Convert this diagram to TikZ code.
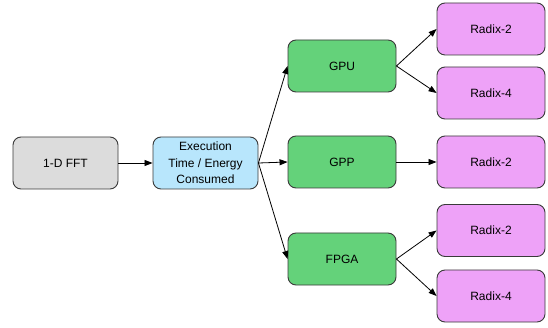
\documentclass[tikz,border=0pt]{standalone}
\usepackage{fontspec}
\setmainfont{Liberation Sans}
\usetikzlibrary{arrows.meta}
\definecolor{cgray}{HTML}{DCDCDC}
\definecolor{cblue}{HTML}{B8E6FC}
\definecolor{cgreen}{HTML}{64D27A}
\definecolor{cviolet}{HTML}{EEA2F8}
\definecolor{cline}{HTML}{3A3A3A}
\begin{document}
\begin{tikzpicture}[x=1pt,y=-1pt,
  box/.style={draw=cline, line width=0.9pt, rounded corners=8pt, minimum width=105pt, minimum height=52pt, inner sep=0pt, align=center, font=\fontsize{12}{16.5}\selectfont},
  arr/.style={-{Triangle[length=8pt,width=6pt]}, line width=0.8pt, black}]
\useasboundingbox (0,0) rectangle (548,328);
\node[box, fill=cgray]   (fft)  at (65.5,163) {1-D FFT};
\node[box, fill=cblue]   (exe)  at (205.5,163) {Execution\\Time / Energy\\Consumed};
\node[box, fill=cgreen, minimum width=108pt]  (gpu)  at (342,66) {GPU};
\node[box, fill=cgreen, minimum width=108pt]  (gpp)  at (342,162) {GPP};
\node[box, fill=cgreen, minimum width=108pt]  (fpga) at (342,259) {FPGA};
\node[box, fill=cviolet, minimum width=108pt] (r1) at (491,29) {Radix-2};
\node[box, fill=cviolet, minimum width=108pt] (r2) at (491,93) {Radix-4};
\node[box, fill=cviolet, minimum width=108pt] (r3) at (491,162) {Radix-2};
\node[box, fill=cviolet, minimum width=108pt] (r4) at (491,230.5) {Radix-2};
\node[box, fill=cviolet, minimum width=108pt] (r5) at (491,296) {Radix-4};
\draw[arr] (fft.east) -- (exe.west);
\draw[arr] (exe.east) -- (gpu.west);
\draw[arr] (exe.east) -- (gpp.west);
\draw[arr] (exe.east) -- (fpga.west);
\draw[arr] (gpu.east) -- (r1.west);
\draw[arr] (gpu.east) -- (r2.west);
\draw[arr] (gpp.east) -- (r3.west);
\draw[arr] (fpga.east) -- (r4.west);
\draw[arr] (fpga.east) -- (r5.west);
\end{tikzpicture}
\end{document}
